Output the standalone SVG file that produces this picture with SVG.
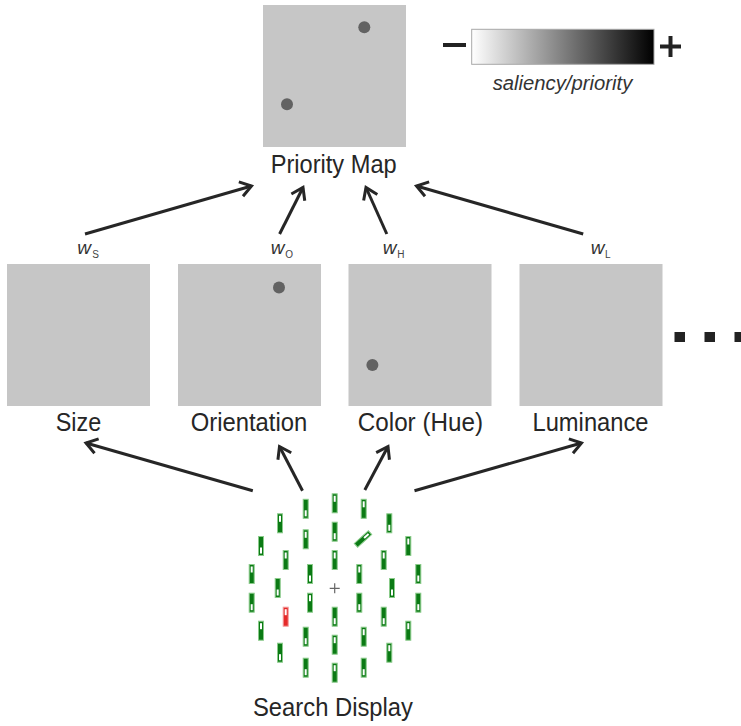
<svg xmlns="http://www.w3.org/2000/svg" xmlns:xlink="http://www.w3.org/1999/xlink" width="741" height="726" viewBox="0 0 741 726">
<style>
.map{fill:#c6c6c6}
.dot{fill:#626262}
.lbl{font-family:"Liberation Sans",Arial,sans-serif;font-size:25px;fill:#262626;text-anchor:middle}
.w{font-family:"Liberation Sans",Arial,sans-serif;font-size:19px;font-style:italic;fill:#333}
.sub{font-family:"Liberation Sans",Arial,sans-serif;font-size:10px;fill:#444}
.conn{stroke:#262626;stroke-width:3;fill:none;marker-end:url(#ah)}
.bar{fill:#0b7a14;stroke:#8acb8a;stroke-width:1}
.rbar{fill:#e52a2a;stroke:#f39a9a;stroke-width:1}
.sq{fill:#222}
</style>
<defs>
<linearGradient id="grad" x1="0" y1="0" x2="1" y2="0">
<stop offset="0" stop-color="#ffffff"/>
<stop offset="1" stop-color="#000000"/>
</linearGradient>
<marker id="ah" markerUnits="userSpaceOnUse" markerWidth="30" markerHeight="30" refX="0" refY="0" viewBox="-15 -15 30 30" orient="auto" overflow="visible">
<path d="M-11,-7.5 L0,0 L-11,7.5" fill="none" stroke="#262626" stroke-width="3" stroke-linejoin="miter"/>
</marker>
<g id="bT"><rect class="bar" x="-2.5" y="-9.5" width="5" height="19"/><rect x="-1" y="-7.5" width="2" height="6" fill="#fff"/></g>
<g id="bB"><rect class="bar" x="-2.5" y="-9.5" width="5" height="19"/><rect x="-1" y="1.5" width="2" height="6" fill="#fff"/></g>
<g id="rT"><rect class="rbar" x="-2.5" y="-9.5" width="5" height="19"/><rect x="-1" y="-7.5" width="2" height="6" fill="#fff"/></g>
</defs>
<rect width="741" height="726" fill="#fff"/>

<g id="priority-map">
<rect class="map" x="263" y="5" width="143" height="142"/>
<circle class="dot" cx="364.3" cy="27.3" r="6"/>
<circle class="dot" cx="287" cy="104.3" r="6"/>
<text class="lbl" x="333.7" y="173" textLength="126" lengthAdjust="spacingAndGlyphs">Priority Map</text>
</g>

<g id="colorbar">
<rect x="471.7" y="29.3" width="182.3" height="35" fill="url(#grad)" stroke="#a8a8a8" stroke-width="1"/>
<line x1="443" y1="45" x2="466" y2="45" stroke="#222" stroke-width="4"/>
<line x1="660" y1="46.5" x2="681" y2="46.5" stroke="#222" stroke-width="4"/>
<line x1="670.5" y1="36" x2="670.5" y2="57" stroke="#222" stroke-width="4"/>
<text x="562.5" y="90" font-family="Liberation Sans, Arial, sans-serif" font-size="20" font-style="italic" fill="#333" text-anchor="middle" textLength="139.6" lengthAdjust="spacingAndGlyphs">saliency/priority</text>
</g>

<g id="size-map">
<rect class="map" x="7" y="264" width="143" height="142"/>
<text class="lbl" x="78.5" y="431" textLength="45.5" lengthAdjust="spacingAndGlyphs">Size</text>
<text class="w" x="77.3" y="254">w</text><text class="sub" x="92.3" y="257.5">S</text>
</g>

<g id="orientation-map">
<rect class="map" x="178" y="264" width="143" height="142"/>
<circle class="dot" cx="279" cy="287.5" r="6"/>
<text class="lbl" x="249" y="431" textLength="116.5" lengthAdjust="spacingAndGlyphs">Orientation</text>
<text class="w" x="270.7" y="254">w</text><text class="sub" x="285.2" y="257.5">O</text>
</g>

<g id="color-map">
<rect class="map" x="348.5" y="264" width="143" height="142"/>
<circle class="dot" cx="372.4" cy="365" r="6"/>
<text class="lbl" x="420.4" y="431" textLength="125.2" lengthAdjust="spacingAndGlyphs">Color (Hue)</text>
<text class="w" x="382.7" y="254">w</text><text class="sub" x="397.3" y="257.5">H</text>
</g>

<g id="luminance-map">
<rect class="map" x="519.5" y="264" width="143" height="142"/>
<text class="lbl" x="590.5" y="431" textLength="116" lengthAdjust="spacingAndGlyphs">Luminance</text>
<text class="w" x="590.7" y="254">w</text><text class="sub" x="605" y="257.5">L</text>
</g>

<g id="ellipsis">
<rect class="sq" x="674.5" y="332" width="10.5" height="10"/>
<rect class="sq" x="704.5" y="332" width="10.5" height="10"/>
<rect class="sq" x="734.5" y="332" width="10.5" height="10"/>
</g>

<g id="search-display">
<use xlink:href="#bB" x="305.7" y="508.8"/>
<use xlink:href="#bT" x="334.7" y="503.3"/>
<use xlink:href="#bT" x="363.7" y="508.8"/>
<use xlink:href="#bT" x="280" y="523.3"/>
<use xlink:href="#bB" x="389.3" y="523.3"/>
<use xlink:href="#bT" x="305.7" y="539.3"/>
<use xlink:href="#bB" x="334.7" y="531.7"/>
<use xlink:href="#bT" transform="translate(363,539) rotate(48)"/>
<use xlink:href="#bB" x="261" y="546"/>
<use xlink:href="#bT" x="408.3" y="546"/>
<use xlink:href="#bT" x="285.7" y="560"/>
<use xlink:href="#bT" x="334.7" y="560"/>
<use xlink:href="#bT" x="383.7" y="560"/>
<use xlink:href="#bT" x="251.7" y="574"/>
<use xlink:href="#bB" x="310" y="574"/>
<use xlink:href="#bT" x="359.3" y="574"/>
<use xlink:href="#bB" x="418.3" y="574"/>
<use xlink:href="#bB" x="277.7" y="588"/>
<use xlink:href="#bB" x="392" y="588"/>
<use xlink:href="#bB" x="251.7" y="602.7"/>
<use xlink:href="#bT" x="310" y="602.7"/>
<use xlink:href="#bB" x="359.3" y="602.7"/>
<use xlink:href="#bB" x="418.3" y="602.7"/>
<use xlink:href="#bB" x="334.7" y="616.7"/>
<use xlink:href="#rT" x="285.7" y="616.7"/>
<use xlink:href="#bB" x="383.7" y="616.7"/>
<use xlink:href="#bT" x="261" y="630.7"/>
<use xlink:href="#bT" x="408.3" y="630.7"/>
<use xlink:href="#bB" x="305.7" y="636.7"/>
<use xlink:href="#bT" x="363.7" y="636.7"/>
<use xlink:href="#bT" x="334.7" y="644.7"/>
<use xlink:href="#bB" x="280" y="652.7"/>
<use xlink:href="#bT" x="389.3" y="652.7"/>
<use xlink:href="#bB" x="305.7" y="667.7"/>
<use xlink:href="#bB" x="363.7" y="667.7"/>
<use xlink:href="#bT" x="334.7" y="672.7"/>
<path d="M329.7,588.3 H339.7 M334.7,583.3 V593.3" stroke="#666" stroke-width="1.2"/>
<text class="lbl" x="333" y="716" textLength="160" lengthAdjust="spacingAndGlyphs">Search Display</text>
</g>

<g id="connectors">
<line class="conn" x1="85" y1="234" x2="251.5" y2="186"/>
<line class="conn" x1="279.6" y1="234" x2="303" y2="187.5"/>
<line class="conn" x1="386.8" y1="234" x2="366" y2="187.5"/>
<line class="conn" x1="583.2" y1="234" x2="416.5" y2="186"/>
<line class="conn" x1="252.8" y1="490.7" x2="86" y2="443"/>
<line class="conn" x1="302.5" y1="490.7" x2="279.5" y2="446.5"/>
<line class="conn" x1="364.8" y1="490" x2="388" y2="446.5"/>
<line class="conn" x1="414.5" y1="490.7" x2="581.5" y2="443"/>
</g>
</svg>
